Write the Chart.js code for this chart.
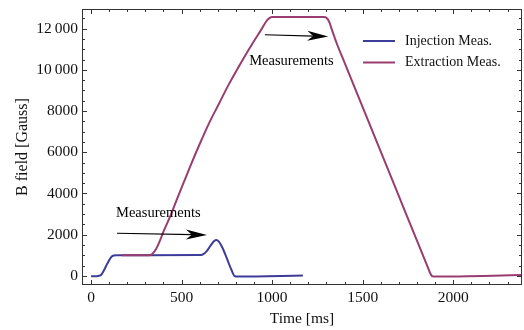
<!DOCTYPE html>
<html>
<head>
<meta charset="utf-8">
<script src="https://cdn.jsdelivr.net/npm/chart.js@4/dist/chart.umd.min.js"></script>
<style>
html, body { margin: 0; padding: 0; background: #fff; }
#wrap { width: 524px; height: 330px; }
</style>
</head>
<body>
<div id="wrap"><canvas id="chart"></canvas></div>
<script>
// injection magnet field (ms, Gauss)
const injTime  = [0, 40, 55, 70, 90, 110, 125, 140, 600, 620, 640, 660, 680, 692, 705, 725, 750, 775, 795, 810, 1170];
const injField = [-20, 0, 40, 250, 600, 900, 990, 1005, 1010, 1060, 1220, 1470, 1690, 1740, 1680, 1380, 850, 300, -20, -30, 20];

// extraction magnet field
const extTime  = [170, 320, 340, 360, 380, 400, 440, 473, 510, 546, 600, 650, 705, 760, 841, 900, 940, 970, 985, 1000,
                  1285, 1300, 1315, 1330, 1356, 1400, 1500, 1600, 1700, 1800, 1860, 1875, 1885, 1900, 2380];
const extField = [1000, 1000, 1080, 1320, 1700, 2150, 2950, 3690, 4500, 5280, 6400, 7380, 8330, 9280, 10540, 11400, 11950, 12380, 12510, 12560,
                  12560, 12520, 12330, 11950, 11300, 10350, 8190, 6030, 3870, 1710, 420, 100, -20, -30, 40];

const xTicks = [0, 500, 1000, 1500, 2000];
const xTickLabels = ['0', '500', '1000', '1500', '2000'];
const yTicks = [0, 2000, 4000, 6000, 8000, 10000, 12000];
const yTickLabels = ['0', '2000', '4000', '6000', '8000', '10\u2009000', '12\u2009000'];

// annotations, in data units
const noteText  = ['Measurements', 'Measurements'];
const noteX     = [138, 873];
const noteY     = [3060, 10400];
const arrowFrom = [[143, 2070], [960, 11700]];
const arrowTo   = [[640, 1990], [1310, 11620]];

const seriesNames  = ['Injection Meas.', 'Extraction Meas.'];
const seriesColors = ['#3d3d99', '#993d71'];

const FONT = '"Liberation Serif", "Times New Roman", serif';

function pts(xs, ys) { return xs.map((x, i) => ({ x: x, y: ys[i] })); }

const framePlugin = {
  id: 'frame',
  afterDraw(chart) {
    const { ctx, chartArea: a, scales: { x, y } } = chart;
    ctx.save();
    ctx.strokeStyle = '#333';
    ctx.lineWidth = 1;
    ctx.strokeRect(a.left + 0.5, a.top + 0.5, a.right - a.left - 1, a.bottom - a.top - 1);

    // inward ticks on all four sides
    ctx.beginPath();
    for (let t = 0; t <= x.max; t += 100) {
      const px = Math.round(x.getPixelForValue(t)) + 0.5;
      const len = t % 500 === 0 ? 5 : 3;
      ctx.moveTo(px, a.bottom); ctx.lineTo(px, a.bottom - len);
      ctx.moveTo(px, a.top); ctx.lineTo(px, a.top + len);
    }
    for (let v = 0; v <= y.max; v += 500) {
      const py = Math.round(y.getPixelForValue(v)) + 0.5;
      const len = v % 2000 === 0 ? 5 : 3;
      ctx.moveTo(a.left, py); ctx.lineTo(a.left + len, py);
      ctx.moveTo(a.right, py); ctx.lineTo(a.right - len, py);
    }
    ctx.stroke();

    // annotations
    ctx.fillStyle = '#000';
    ctx.strokeStyle = '#000';
    ctx.font = '14.5px ' + FONT;
    ctx.textBaseline = 'middle';
    ctx.textAlign = 'left';
    noteText.forEach((txt, i) => {
      ctx.fillText(txt, x.getPixelForValue(noteX[i]), y.getPixelForValue(noteY[i]));
      const x0 = x.getPixelForValue(arrowFrom[i][0]), y0 = y.getPixelForValue(arrowFrom[i][1]);
      const x1 = x.getPixelForValue(arrowTo[i][0]),   y1 = y.getPixelForValue(arrowTo[i][1]);
      const d = Math.hypot(x1 - x0, y1 - y0);
      const ux = (x1 - x0) / d, uy = (y1 - y0) / d;
      const L = 21, W = 5;
      ctx.lineWidth = 1.2;
      ctx.beginPath();
      ctx.moveTo(x0, y0);
      ctx.lineTo(x1 - ux * L * 0.7, y1 - uy * L * 0.7);
      ctx.stroke();
      ctx.beginPath();
      ctx.moveTo(x1, y1);
      ctx.lineTo(x1 - ux * L - uy * W, y1 - uy * L + ux * W);
      ctx.lineTo(x1 - ux * L * 0.72, y1 - uy * L * 0.72);
      ctx.lineTo(x1 - ux * L + uy * W, y1 - uy * L - ux * W);
      ctx.closePath();
      ctx.fill();
    });

    // legend
    ctx.font = '14px ' + FONT;
    seriesNames.forEach((name, i) => {
      const ly = 41 + i * 21.5;
      ctx.strokeStyle = seriesColors[i];
      ctx.lineWidth = 2;
      ctx.beginPath();
      ctx.moveTo(363, ly); ctx.lineTo(395, ly);
      ctx.stroke();
      ctx.fillStyle = '#111';
      ctx.fillText(name, 405, ly);
    });
    ctx.restore();
  }
};

new Chart(document.getElementById('chart'), {
  type: 'line',
  data: {
    datasets: [
      { label: seriesNames[0], data: pts(injTime, injField), borderColor: seriesColors[0], order: 2 },
      { label: seriesNames[1], data: pts(extTime, extField), borderColor: seriesColors[1], order: 1 }
    ]
  },
  options: {
    responsive: true,
    maintainAspectRatio: false,
    animation: false,
    layout: { padding: { left: 0, top: 9, right: 2, bottom: 0 } },
    elements: {
      point: { radius: 0 },
      line: { borderWidth: 2, cubicInterpolationMode: 'monotone', fill: false, borderJoinStyle: 'round' }
    },
    plugins: { legend: { display: false }, tooltip: { enabled: false } },
    scales: {
      x: {
        type: 'linear',
        min: -50, max: 2380,
        grid: { display: false, drawTicks: false },
        border: { display: false },
        afterBuildTicks: s => { s.ticks = xTicks.map(v => ({ value: v })); },
        afterFit: s => { s.height = 45; s.paddingLeft = 0; s.paddingRight = 0; },
        ticks: { padding: 4, maxRotation: 0, color: '#111', font: { family: FONT, size: 15.5 }, callback: (v, i) => xTickLabels[i] },
        title: { display: true, text: 'Time [ms]', color: '#111', padding: { top: 1, bottom: 2 }, font: { family: FONT, size: 15.5 } }
      },
      y: {
        min: -440, max: 12950,
        grid: { display: false, drawTicks: false },
        border: { display: false },
        afterBuildTicks: s => { s.ticks = yTicks.map(v => ({ value: v })); },
        afterFit: s => { s.width = 82; s.paddingTop = 0; s.paddingBottom = 0; },
        ticks: { padding: 4, color: '#111', font: { family: FONT, size: 15.5 }, callback: (v, i) => yTickLabels[i] },
        title: { display: true, text: 'B field [Gauss]', color: '#111', padding: { top: 13, bottom: 4 }, font: { family: FONT, size: 16 } }
      }
    }
  },
  plugins: [framePlugin]
});
</script>
</body>
</html>
